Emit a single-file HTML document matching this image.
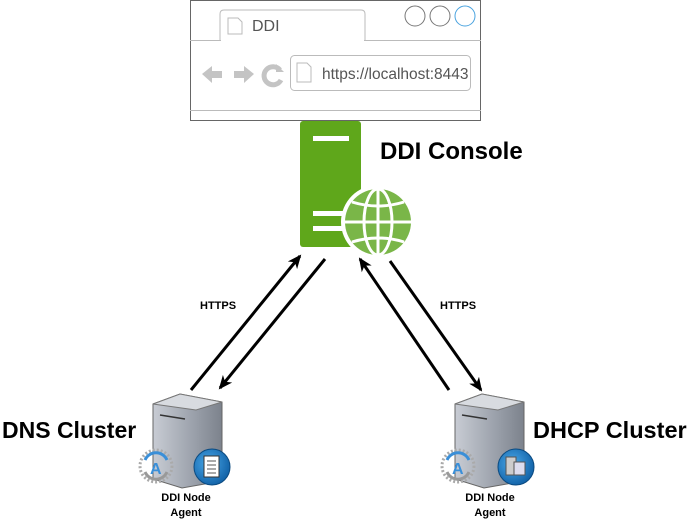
<!DOCTYPE html>
<html><head><meta charset="utf-8"><style>
html,body{margin:0;padding:0;background:#fff;}
svg{display:block;font-family:"Liberation Sans",Arial,sans-serif;}
</style></head><body>
<svg width="689" height="521" viewBox="0 0 689 521" xmlns="http://www.w3.org/2000/svg">
<defs>
<marker id="ah" markerWidth="14" markerHeight="12" refX="12" refY="6" orient="auto" markerUnits="userSpaceOnUse" viewBox="0 0 14 12">
<path d="M0,0 L14,6 L0,12 L4,6 Z" fill="#000"/></marker>
<linearGradient id="sv" x1="0" x2="1" y1="0" y2="0"><stop offset="0" stop-color="#c8ccd4"/><stop offset="0.6" stop-color="#9aa0aa"/><stop offset="1" stop-color="#7c828c"/></linearGradient>
<radialGradient id="bl" cx="0.4" cy="0.4" r="0.7"><stop offset="0" stop-color="#4aa8e8"/><stop offset="1" stop-color="#0b5aa0"/></radialGradient>
</defs>
<!-- browser -->
<rect x="190.5" y="0.5" width="290" height="120" fill="#fff" stroke="#666" stroke-width="1"/>
<path d="M220,40 V14 Q220,10 224,10 H361 Q365,10 365,14 V40" fill="#fff" stroke="#bbb"/>
<line x1="190" y1="40.5" x2="481" y2="40.5" stroke="#bbb"/>
<line x1="190" y1="110.5" x2="481" y2="110.5" stroke="#bbb"/>
<line x1="221" y1="40.5" x2="364" y2="40.5" stroke="#fff"/>
<path d="M228,18 H238 L242,22 V34 H228 Z" fill="#fff" stroke="#bbb"/>
<text x="252" y="31" font-size="16" fill="#555">DDI</text>
<circle cx="415" cy="16" r="10" fill="#fff" stroke="#777"/>
<circle cx="440" cy="16" r="10" fill="#fff" stroke="#777"/>
<circle cx="465" cy="16" r="10" fill="#fff" stroke="#4aa3df"/>
<rect x="290.5" y="55.5" width="180" height="35" rx="4" fill="#fff" stroke="#bbb"/>
<path d="M297,63 H307 L311,67 V82 H297 Z" fill="#fff" stroke="#bbb"/>
<text x="322" y="79" font-size="15.5" fill="#555">https://localhost:8443</text>
<path d="M202,74 L212,66 V71 H222 V78 H212 V83 Z" fill="#c4c4c4"/>
<path d="M254,74 L244,66 V71 H234 V78 H244 V83 Z" fill="#c4c4c4"/>
<path d="M280,70 A9,9 0 1 0 281,80" fill="none" stroke="#c4c4c4" stroke-width="5"/>
<path d="M276,64 L284,72 L276,72 Z" fill="#c4c4c4"/>
<!-- green server -->
<rect x="300" y="121" width="61" height="126" rx="3" fill="#5fa71b"/>
<rect x="313" y="136" width="36" height="5" fill="#fff"/>
<rect x="313" y="211" width="36" height="5" fill="#fff"/>
<rect x="313" y="226" width="36" height="5" fill="#fff"/>
<circle cx="378" cy="222" r="37" fill="#fff"/>
<circle cx="378" cy="222" r="33" fill="#7ab648"/>
<g fill="none" stroke="#fff" stroke-width="3">
<ellipse cx="378" cy="222" rx="14" ry="33"/>
<line x1="378" y1="189" x2="378" y2="255"/>
<line x1="345" y1="222" x2="411" y2="222"/>
<path d="M352,202 Q378,210 404,202"/><path d="M352,242 Q378,234 404,242"/>
</g>
<text x="380" y="159" font-size="24" font-weight="bold">DDI Console</text>
<!-- arrows -->
<g stroke="#000" stroke-width="3" marker-end="url(#ah)">
<line x1="191" y1="390" x2="300" y2="256"/>
<line x1="325" y1="259" x2="220" y2="388"/>
<line x1="449" y1="390" x2="360" y2="259"/>
<line x1="390" y1="261" x2="481" y2="390"/>
</g>
<text x="200" y="309" font-size="11" font-weight="bold">HTTPS</text>
<text x="440" y="309" font-size="11" font-weight="bold">HTTPS</text>
<!-- servers -->
<g id="srv">
<path d="M153,404 L180,394 L222,402 V481 L182,488 L153,479 Z" fill="url(#sv)" stroke="#666"/>
<path d="M153,404 L180,394 L222,402 L196,410 Z" fill="#d8dbe0" stroke="#777"/>
<line x1="160" y1="415" x2="185" y2="419" stroke="#333" stroke-width="1.5"/>
<circle cx="156" cy="466" r="16" fill="none" stroke="#aaa" stroke-width="3" stroke-dasharray="2 2"/>
<path d="M145,460 A12,12 0 0 1 167,460" fill="none" stroke="#3a8fd8" stroke-width="3"/>
<path d="M167,472 A12,12 0 0 1 145,472" fill="none" stroke="#999" stroke-width="3"/>
<text x="150" y="474" font-size="16" font-weight="bold" fill="#3a8fd8">A</text>
</g>
<circle cx="212" cy="467" r="18" fill="url(#bl)" stroke="#0b4a80"/>
<rect x="204" y="456" width="15" height="21" fill="#fff" stroke="#333"/>
<g stroke="#555"><line x1="207" y1="461" x2="216" y2="461"/><line x1="207" y1="465" x2="216" y2="465"/><line x1="207" y1="469" x2="216" y2="469"/><line x1="207" y1="473" x2="216" y2="473"/></g>
<use href="#srv" x="302"/>
<circle cx="516" cy="467" r="18" fill="url(#bl)" stroke="#0b4a80"/>
<rect x="506" y="457" width="10" height="18" fill="#ccc" stroke="#555"/>
<rect x="514" y="462" width="11" height="13" fill="#dde" stroke="#555"/>
<text x="2" y="438" font-size="23" font-weight="bold">DNS Cluster</text>
<text x="533" y="438" font-size="23.5" font-weight="bold">DHCP Cluster</text>
<g font-size="11" font-weight="bold" text-anchor="middle">
<text x="186" y="501">DDI Node</text><text x="186" y="516">Agent</text>
<text x="490" y="501">DDI Node</text><text x="490" y="516">Agent</text>
</g>
</svg>
</body></html>
